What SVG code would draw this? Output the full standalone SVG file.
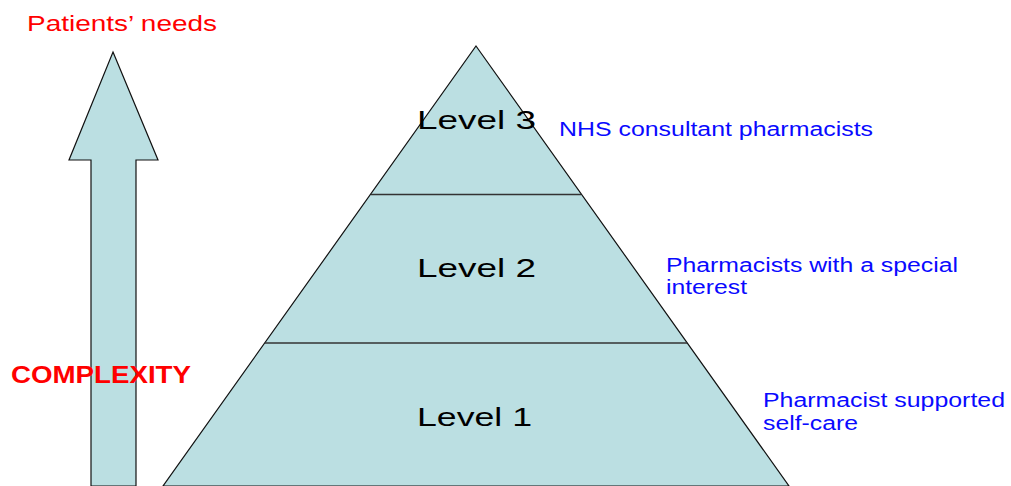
<svg xmlns="http://www.w3.org/2000/svg" width="1011" height="486" viewBox="0 0 1011 486">
  <style>
    .shape { fill: #bbdfe2; stroke: #111; stroke-width: 1.2; stroke-linejoin: miter; }
    .divider { stroke: #333; stroke-width: 1.6; }
    .level { font-family: "Liberation Sans", Arial, sans-serif; font-size: 25px; fill: #000; }
    .role { font-family: "Liberation Sans", Arial, sans-serif; font-size: 20px; fill: #0a0aff; }
    .red { font-family: "Liberation Sans", Arial, sans-serif; fill: #ff0000; }
  </style>
  <rect width="1011" height="486" fill="#ffffff"/>

  <!-- Upward arrow -->
  <g id="arrow">
    <path class="shape" d="M113,52 L158,160 L136,160 L136,486 L91,486 L91,160 L69,160 Z"/>
  </g>

  <!-- Pyramid -->
  <g id="pyramid">
    <path class="shape" d="M476,46 L789,486 L163,486 Z"/>
  </g>
  <g id="connectors">
    <line class="divider" x1="371" y1="194.5" x2="581" y2="194.5"/>
    <line class="divider" x1="265" y1="343" x2="687" y2="343"/>
  </g>

  <g id="level3">
    <text class="level" x="417" y="129" textLength="119" lengthAdjust="spacingAndGlyphs">Level 3</text>
  </g>
  <g id="level2">
    <text class="level" x="417" y="277" textLength="119" lengthAdjust="spacingAndGlyphs">Level 2</text>
  </g>
  <g id="level1">
    <text class="level" x="417" y="426" textLength="115" lengthAdjust="spacingAndGlyphs">Level 1</text>
  </g>

  <g id="role3">
    <text class="role" x="559" y="136" textLength="314" lengthAdjust="spacingAndGlyphs">NHS consultant pharmacists</text>
  </g>
  <g id="role2">
    <text class="role" x="666" y="272" textLength="292" lengthAdjust="spacingAndGlyphs">Pharmacists with a special</text>
    <text class="role" x="666" y="294" textLength="81" lengthAdjust="spacingAndGlyphs">interest</text>
  </g>
  <g id="role1">
    <text class="role" x="763" y="407" textLength="242" lengthAdjust="spacingAndGlyphs">Pharmacist supported</text>
    <text class="role" x="763" y="430" textLength="95" lengthAdjust="spacingAndGlyphs">self-care</text>
  </g>

  <g id="needs-label">
    <text class="red" x="27" y="31" font-size="22" textLength="190" lengthAdjust="spacingAndGlyphs">Patients’ needs</text>
  </g>
  <g id="complexity-label">
    <text class="red" x="11" y="383" font-size="23" font-weight="bold" textLength="180" lengthAdjust="spacingAndGlyphs">COMPLEXITY</text>
  </g>
</svg>
